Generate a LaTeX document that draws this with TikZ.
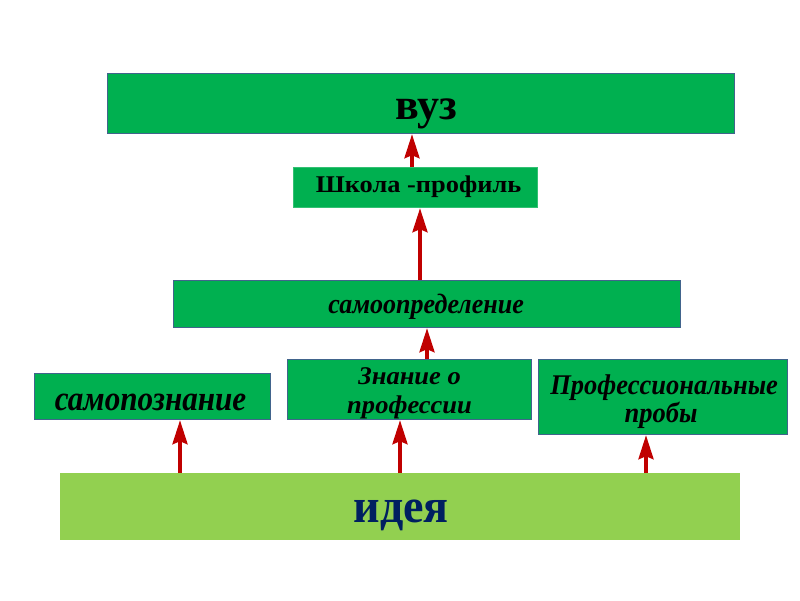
\documentclass[tikz,border=0pt]{standalone}
\usepackage{fontspec}
\setmainfont{Liberation Serif}
\usetikzlibrary{arrows.meta,calc}
\definecolor{boxgreen}{RGB}{0,176,80}
\definecolor{ideagreen}{RGB}{146,208,80}
\definecolor{edgeblue}{RGB}{65,100,140}
\definecolor{arrred}{RGB}{192,0,0}
\definecolor{navy}{RGB}{0,32,96}
\begin{document}
\begin{tikzpicture}[x=1pt,y=-1pt,
  gbox/.style={draw=edgeblue,line width=1.2pt,fill=boxgreen,inner sep=0pt,anchor=north west},
  lbl/.style={anchor=base,inner sep=0pt},
  arr/.style={draw=arrred,line width=3.5pt,-{Stealth[width=15pt,length=24pt,inset=3pt]}}]
\useasboundingbox[fill=white] (0,0) rectangle (800,600);
% boxes
\node[gbox,minimum width=627pt,minimum height=60pt] (vuz) at (107,73) {};
\node[lbl] (tvuz) at ($(vuz.north)+(5,46)$) {\fontsize{44}{48}\selectfont\bfseries вуз};
\node[gbox,draw=boxgreen!80!white,minimum width=244pt,minimum height=40pt] (shk) at (293,167) {};
\node[lbl] (tshk) at ($(shk.north)+(3,25)$) {\scalebox{1.1}[1]{\fontsize{24}{26}\selectfont\bfseries Школа -профиль}};
\node[gbox,minimum width=507pt,minimum height=47pt] (samoopr) at (173,280) {};
\node[lbl] (tsamoopr) at ($(samoopr.north)+(-1,33)$) {\scalebox{0.93}[1]{\fontsize{28}{30}\selectfont\bfseries\itshape самоопределение}};
\node[gbox,minimum width=236pt,minimum height=46pt] (samop) at (34,373) {};
\node[lbl] (tsamop) at ($(samop.north)+(-2,37)$) {\scalebox{0.89}[1]{\fontsize{35}{38}\selectfont\bfseries\itshape самопознание}};
\node[gbox,minimum width=244pt,minimum height=60pt] (znan) at (287,359) {};
\node[lbl] (tznan1) at ($(znan.north)+(0,25)$) {\scalebox{1.04}[1]{\fontsize{25.5}{28}\selectfont\bfseries\itshape Знание о}};
\node[lbl] (tznan2) at ($(znan.north)+(0,54)$) {\scalebox{1.04}[1]{\fontsize{25.5}{28}\selectfont\bfseries\itshape профессии}};
\node[gbox,minimum width=249pt,minimum height=75pt] (prof) at (538,359) {};
\node[lbl] (tprof1) at ($(prof.north)+(1,35)$) {\scalebox{0.93}[1]{\fontsize{28.5}{30}\selectfont\bfseries\itshape Профессиональные}};
\node[lbl] (tprof2) at ($(prof.north)+(-2,63)$) {\scalebox{0.93}[1]{\fontsize{28.5}{30}\selectfont\bfseries\itshape пробы}};
\node[fill=ideagreen,inner sep=0pt,anchor=north west,minimum width=680pt,minimum height=67pt] (idea) at (60,473) {};
\node[lbl,text=navy] (tidea) at ($(idea.north)+(1,49)$) {\scalebox{0.96}[1]{\fontsize{48}{52}\selectfont\bfseries идея}};
% arrow positions
\coordinate (c1) at (412,0);
\coordinate (c2) at (420,0);
\coordinate (c3) at (427,0);
\coordinate (c4) at (180,0);
\coordinate (c5) at (400,0);
\coordinate (c6) at (646,0);
\draw[arr] (shk.north -| c1) -- (vuz.south -| c1);
\draw[arr] (samoopr.north -| c2) -- (shk.south -| c2);
\draw[arr] (znan.north -| c3) -- (samoopr.south -| c3);
\draw[arr] (idea.north -| c4) -- (samop.south -| c4);
\draw[arr] (idea.north -| c5) -- (znan.south -| c5);
\draw[arr] (idea.north -| c6) -- (prof.south -| c6);
\end{tikzpicture}
\end{document}
